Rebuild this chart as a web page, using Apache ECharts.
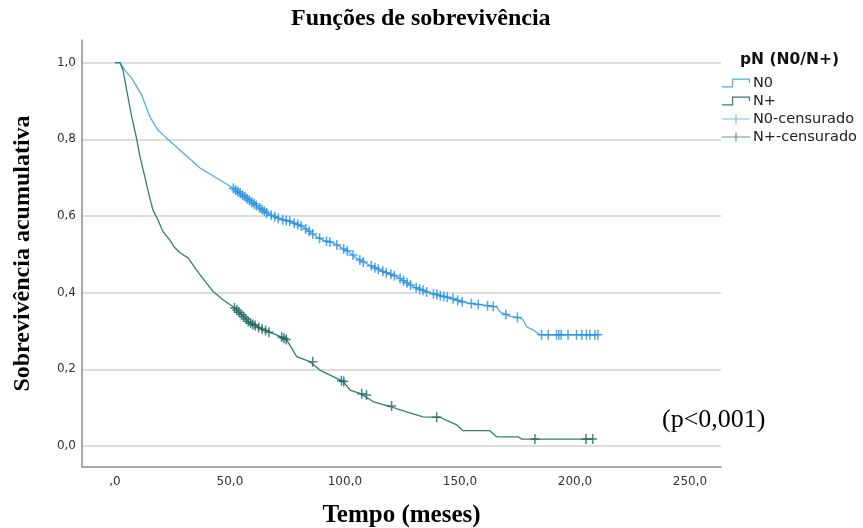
<!DOCTYPE html>
<html>
<head>
<meta charset="utf-8">
<script src="https://cdn.jsdelivr.net/npm/echarts@6/dist/echarts.min.js"></script>
<style>
  html, body { margin: 0; padding: 0; background: #fff; }
  #chart { width: 863px; height: 528px; }
</style>
</head>
<body>
<div id="chart"></div>
<script>
// curva N0 (tempo em meses / sobrevivencia)
var n0Tempo = [0, 2.2, 4.3, 7.8, 11.6, 15.2, 18.7, 22.5, 29.6, 37, 44.2, 51.3, 57.5, 62, 67, 72, 77, 81.7, 87.7, 90.4, 94.8, 97.8, 102, 105, 110, 115.2, 122.5, 129.6, 137, 145.7, 152.9, 160, 166, 167.4, 171.7, 176, 177.4, 179, 181.7, 184.8, 210]
var n0Sobr = [1, 1, 0.981, 0.955, 0.916, 0.859, 0.824, 0.803, 0.765, 0.725, 0.699, 0.673, 0.645, 0.625, 0.604, 0.592, 0.584, 0.572, 0.546, 0.537, 0.530, 0.520, 0.505, 0.490, 0.474, 0.459, 0.442, 0.416, 0.399, 0.386, 0.373, 0.368, 0.363, 0.350, 0.339, 0.334, 0.330, 0.311, 0.303, 0.290, 0.290]

// curva N+
var npTempo = [0, 2.2, 3.5, 5.1, 7.3, 9.4, 10.9, 13, 14.3, 16.5, 18.7, 20.9, 23.9, 26.1, 28.3, 31.9, 35.5, 39.9, 42.7, 47.1, 51.4, 54.3, 58.7, 64.5, 70.3, 74.7, 79, 84.8, 89.1, 94.9, 99.3, 102.2, 106.5, 112.3, 119.6, 126.8, 134, 141.3, 145.7, 148.6, 151.4, 163, 166, 175.3, 176.8, 208]
var npSobr = [1, 1, 0.981, 0.929, 0.859, 0.803, 0.755, 0.703, 0.668, 0.616, 0.590, 0.559, 0.537, 0.517, 0.504, 0.490, 0.459, 0.424, 0.403, 0.381, 0.363, 0.347, 0.321, 0.303, 0.290, 0.277, 0.233, 0.220, 0.198, 0.181, 0.168, 0.146, 0.137, 0.116, 0.103, 0.089, 0.076, 0.075, 0.063, 0.055, 0.040, 0.040, 0.024, 0.024, 0.018, 0.018]

// casos censurados
var n0CensTempo = [51.5, 52.5, 53.5, 54.5, 55.5, 56.5, 57.5, 58.5, 59.5, 60.5, 61.5, 63, 64, 65, 66, 68, 69.5, 71, 73, 74.5, 76, 78, 79.5, 81, 83, 84.5, 86, 89, 92, 93.5, 96.5, 99.5, 101, 103.5, 106.5, 108, 111.5, 113, 114.5, 116.5, 118, 120, 121.5, 124, 125.5, 127, 128.5, 131, 132.5, 134, 135.5, 138.5, 140, 141.5, 143, 144.5, 147, 149, 151, 155, 158, 162, 164.5, 170, 175, 185.5, 188.4, 192, 193, 194, 197, 200.7, 203, 205, 206.5, 208.7, 210]
var n0CensSobr = [0.672, 0.668, 0.663, 0.659, 0.654, 0.650, 0.645, 0.641, 0.636, 0.632, 0.627, 0.621, 0.617, 0.612, 0.608, 0.602, 0.598, 0.594, 0.590, 0.588, 0.586, 0.581, 0.578, 0.574, 0.566, 0.560, 0.553, 0.542, 0.534, 0.532, 0.524, 0.514, 0.509, 0.498, 0.485, 0.480, 0.470, 0.465, 0.461, 0.456, 0.452, 0.448, 0.444, 0.437, 0.431, 0.426, 0.420, 0.413, 0.409, 0.406, 0.402, 0.397, 0.395, 0.392, 0.390, 0.388, 0.384, 0.380, 0.376, 0.372, 0.369, 0.366, 0.364, 0.343, 0.335, 0.290, 0.290, 0.290, 0.290, 0.290, 0.290, 0.290, 0.290, 0.290, 0.290, 0.290, 0.290]
var npCensTempo = [52, 53, 54, 55, 56, 57, 58, 59, 60, 61, 62.5, 64, 65.5, 67, 72.5, 73.5, 74.5, 86, 98.5, 99.5, 107.3, 109.4, 120.3, 139.9, 182.6, 204.8, 207.7]
var npCensSobr = [0.360, 0.355, 0.349, 0.343, 0.337, 0.331, 0.325, 0.320, 0.317, 0.314, 0.309, 0.305, 0.301, 0.297, 0.284, 0.281, 0.278, 0.220, 0.170, 0.168, 0.136, 0.133, 0.104, 0.075, 0.018, 0.018, 0.018]

var xTicks = [0, 50, 100, 150, 200, 250]
var yTicks = [0, 0.2, 0.4, 0.6, 0.8, 1.0]

function pares(a, b) {
	var out = []
	for (var i = 0; i < a.length; i++) out.push([a[i], b[i]])
	return out
}

var corN0 = '#55aae6'
var corNp = '#2f7f7a'
var corN0Cens = '#2590e0'
var corNpCens = '#1d6660'
var cruz = 'path://M3.75,0h1.5v4.25h3.75v1.5h-3.75v4.25h-1.5v-4.25h-3.75v-1.5h3.75z'
var iconeDegrau = 'path://M0,7.8H10V0H28V4.5H26.8V1.2H11.2V9H0Z'
var iconeCruz = 'path://M13.4,0h1.2v3.9h13.4v1.2h-13.4v3.9h-1.2v-3.9h-13.4v-1.2h13.4z'
var serif = '"Liberation Serif", "Times New Roman", serif'
var sans = '"DejaVu Sans", sans-serif'

var chart = echarts.init(document.getElementById('chart'))
chart.setOption({
	animation: false,
	backgroundColor: '#fff',
	title: [{
		text: 'Funções de sobrevivência',
		left: 291, top: 7, padding: 0,
		textStyle: { fontFamily: serif, fontWeight: 'bold', fontSize: 24, color: '#000' }
	}, {
		text: 'pN (N0/N+)',
		left: 740, top: 52, padding: 0,
		textStyle: { fontFamily: sans, fontWeight: 'bold', fontSize: 15.5, color: '#111' }
	}, {
		text: '(p<0,001)',
		left: 662, top: 407, padding: 0,
		textStyle: { fontFamily: serif, fontWeight: 'normal', fontSize: 26, color: '#000' }
	}],
	legend: {
		orient: 'vertical',
		left: 722, top: 75.5, padding: 0,
		itemWidth: 28, itemHeight: 9, itemGap: 3,
		textStyle: { fontFamily: sans, fontSize: 14.5, color: '#222', padding: [0, 0, 0, -2] },
		data: [
			{ name: 'N0', icon: iconeDegrau, itemStyle: { color: corN0 } },
			{ name: 'N+', icon: iconeDegrau, itemStyle: { color: corNp } },
			{ name: 'N0-censurado', icon: iconeCruz, itemStyle: { color: corN0 } },
			{ name: 'N+-censurado', icon: iconeCruz, itemStyle: { color: corNp } }
		]
	},
	grid: { left: 82, right: 142, top: 40, bottom: 61, outerBoundsMode: 'none' },
	xAxis: {
		type: 'value', min: -14.3, max: 263.5,
		name: 'Tempo (meses)', nameLocation: 'middle', nameGap: 36,
		nameTextStyle: { fontFamily: serif, fontWeight: 'bold', fontSize: 25, color: '#000' },
		axisLine: { show: true, onZero: false, lineStyle: { color: '#8c8c8c', width: 1.5 } },
		axisTick: { show: false, customValues: xTicks },
		axisLabel: {
			customValues: xTicks, margin: 9, fontFamily: sans, fontSize: 12, color: '#333',
			formatter: function (v) { return v === 0 ? ',0' : v.toFixed(1).replace('.', ',') }
		},
		splitLine: { show: false }
	},
	yAxis: {
		type: 'value', min: -0.0548, max: 1.059,
		name: 'Sobrevivência acumulativa', nameLocation: 'middle', nameGap: 47, nameRotate: 90,
		nameTextStyle: { fontFamily: serif, fontWeight: 'bold', fontSize: 24, color: '#000' },
		axisLine: { show: true, onZero: false, lineStyle: { color: '#8c8c8c', width: 1.5 } },
		axisTick: { show: false, customValues: yTicks },
		axisLabel: {
			customValues: yTicks, margin: 6, fontFamily: sans, fontSize: 12, color: '#333',
			formatter: function (v) { return v.toFixed(1).replace('.', ',') }
		},
		splitLine: { show: true, lineStyle: { color: '#d2d2d2', width: 1.5 } }
	},
	series: [{
		name: 'N0', type: 'line', showSymbol: false, symbol: 'none',
		data: pares(n0Tempo, n0Sobr),
		lineStyle: { color: corN0, width: 1.3 }, itemStyle: { color: corN0 }, z: 3
	}, {
		name: 'N+', type: 'line', showSymbol: false, symbol: 'none',
		data: pares(npTempo, npSobr),
		lineStyle: { color: corNp, width: 1.3 }, itemStyle: { color: corNp }, z: 3
	}, {
		name: 'N0-censurado', type: 'scatter', symbol: cruz, symbolSize: [9, 10],
		data: pares(n0CensTempo, n0CensSobr),
		itemStyle: { color: corN0Cens }, z: 4
	}, {
		name: 'N+-censurado', type: 'scatter', symbol: cruz, symbolSize: [9, 10],
		data: pares(npCensTempo, npCensSobr),
		itemStyle: { color: corNpCens }, z: 4
	}]
})
</script>
</body>
</html>
